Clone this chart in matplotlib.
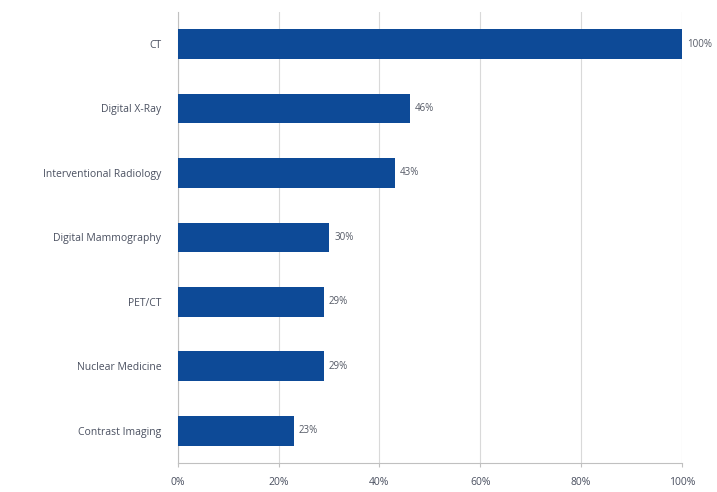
import matplotlib
matplotlib.use("Agg")
import matplotlib.pyplot as plt
from matplotlib.ticker import FuncFormatter

categories = ["CT", "Digital X-Ray", "Interventional Radiology", "Digital Mammography",
              "PET/CT", "Nuclear Medicine", "Contrast Imaging"]
values = [100, 46, 43, 30, 29, 29, 23]
xticks = [0, 20, 40, 60, 80, 100]

plt.rcParams['font.family'] = ['Open Sans', 'DejaVu Sans']

fig = plt.figure(figsize=(7.17, 4.92), dpi=100)
ax = fig.add_axes([0.248, 0.059, 0.703, 0.917])

pos = list(range(len(categories)))
ax.barh(pos, values, height=0.46, color="#0d4a97", zorder=3)
for y, v in zip(pos, values):
    ax.text(v + 1, y, f"{v}%", va="center", ha="left", fontsize=7, color="#555a66")

ax.set_yticks(pos)
ax.set_yticklabels(categories, fontsize=7.5, color="#4a5060")
ax.set_ylim(len(categories) - 0.5, -0.5)
ax.set_xlim(0, 100)
ax.set_xticks(xticks)
ax.xaxis.set_major_formatter(FuncFormatter(lambda x, p: f"{int(x)}%"))
ax.tick_params(axis="x", labelsize=7.5, labelcolor="#4a5060", length=3, color="#c0c0c0", pad=7)
ax.tick_params(axis="y", length=0, pad=12)
ax.grid(axis="x", color="#d9d9d9", linewidth=0.8, zorder=0)

for s in ["top", "right"]:
    ax.spines[s].set_visible(False)
ax.spines["left"].set_color("#c0c0c0")
ax.spines["bottom"].set_color("#c0c0c0")

fig.savefig("out.png", dpi=100)
